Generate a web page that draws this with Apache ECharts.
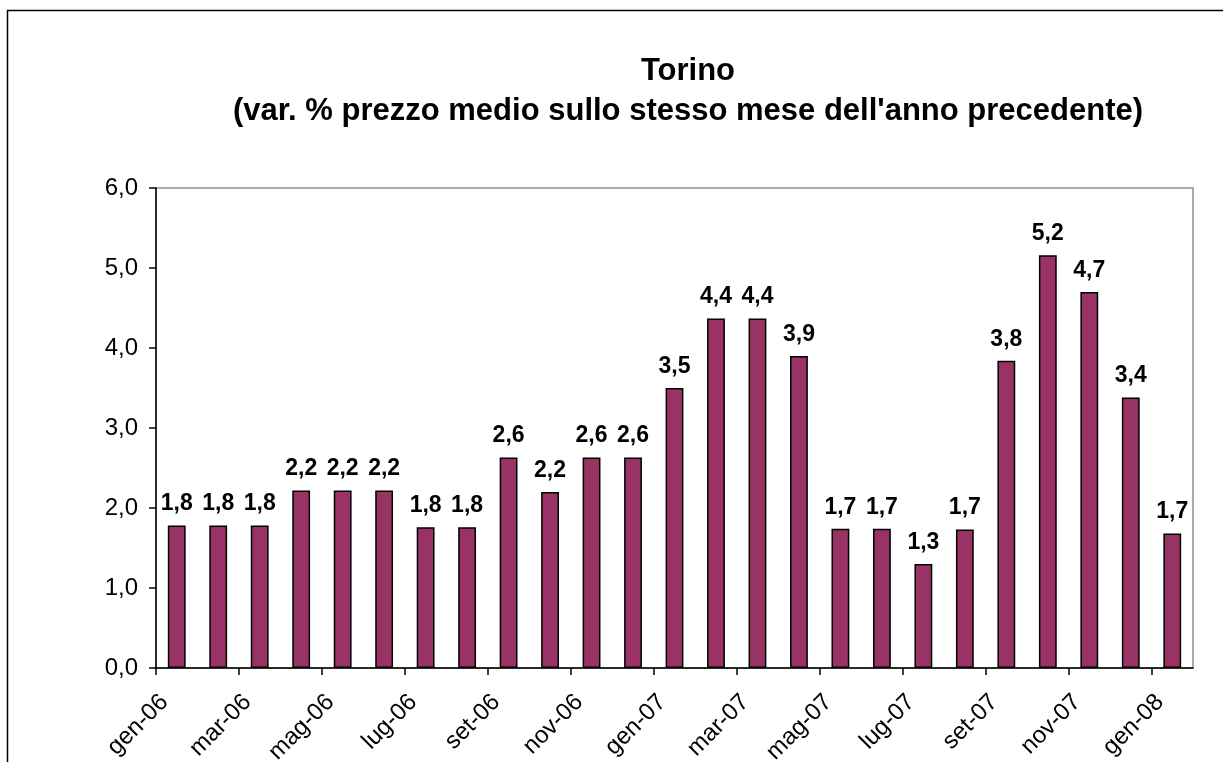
<!DOCTYPE html>
<html>
<head>
<meta charset="utf-8">
<script src="https://cdn.jsdelivr.net/npm/echarts@6/dist/echarts.min.js"></script>
<style>
  html, body { margin: 0; padding: 0; background: #fff; }
  #chart { width: 1223px; height: 762px; }
</style>
</head>
<body>
<div id="chart"></div>
<script>
// months shown as bars
const months = [
  "gen-06", "feb-06", "mar-06", "apr-06", "mag-06", "giu-06", "lug-06", "ago-06",
  "set-06", "ott-06", "nov-06", "dic-06", "gen-07", "feb-07", "mar-07", "apr-07",
  "mag-07", "giu-07", "lug-07", "ago-07", "set-07", "ott-07", "nov-07", "dic-07", "gen-08"
];
// tick labels sit on the left edge of each month band (one extra slot closes the axis)
const tickLabels = months.concat([""]);
// var. % prezzo medio
const values = [
  1.78, 1.78, 1.78, 2.22, 2.22, 2.22, 1.76, 1.76, 2.63, 2.2, 2.63, 2.63, 3.5,
  4.37, 4.37, 3.9, 1.74, 1.74, 1.3, 1.73, 3.84, 5.16, 4.7, 3.38, 1.68
];

const fmt = (v) => v.toFixed(1).replace(".", ",");
const font = "Liberation Sans, Arial, sans-serif";

const chart = echarts.init(document.getElementById("chart"));

const option = {
  backgroundColor: "#fff",
  animation: false,
  title: {
    text: "Torino\n(var. % prezzo medio sullo stesso mese dell'anno precedente)",
    left: 683,
    top: 46,
    textAlign: "center",
    textStyle: {
      fontFamily: font,
      fontSize: 31,
      fontWeight: "bold",
      color: "#000",
      lineHeight: 40,
    },
  },
  grid: {
    left: 156,
    right: 30,
    top: 188,
    bottom: 94,
    outerBoundsMode: "none",
    show: true,
    borderColor: "#909090",
    borderWidth: 1.5,
  },
  xAxis: [
    {
      type: "category",
      data: months,
      boundaryGap: true,
      axisLine: { lineStyle: { color: "#000", width: 1.5 } },
      axisTick: { show: false },
      axisLabel: { show: false },
    },
    {
      type: "category",
      data: tickLabels,
      boundaryGap: false,
      position: "bottom",
      axisLine: { show: false },
      axisTick: {
        show: true,
        interval: 1,
        length: 7,
        lineStyle: { color: "#000", width: 1.5 },
      },
      axisLabel: {
        interval: 1,
        rotate: 45,
        margin: 22,
        verticalAlign: "top",
        fontFamily: font,
        fontSize: 24,
        color: "#000",
      },
    },
  ],
  yAxis: {
    type: "value",
    min: 0,
    max: 6,
    interval: 1,
    axisLine: { show: true, lineStyle: { color: "#000", width: 1.5 } },
    axisTick: { show: true, length: 7, lineStyle: { color: "#000", width: 1.5 } },
    splitLine: { show: false },
    axisLabel: {
      formatter: fmt,
      margin: 18,
      fontFamily: font,
      fontSize: 24,
      color: "#000",
    },
  },
  series: [
    {
      type: "bar",
      data: values,
      xAxisIndex: 0,
      barCategoryGap: "57%",
      itemStyle: {
        color: "#993366",
        borderColor: "#000",
        borderWidth: 1.5,
      },
      label: {
        show: true,
        position: "top",
        distance: 10,
        formatter: (p) => fmt(p.value),
        fontFamily: font,
        fontSize: 23,
        fontWeight: "bold",
        color: "#000",
      },
    },
  ],
  graphic: [
    {
      type: "polyline",
      shape: { points: [[7.5, 800], [7.5, 10.5], [1240, 10.5]] },
      style: { stroke: "#000", lineWidth: 1.5, fill: null },
      silent: true,
    },
  ],
};

chart.setOption(option);
</script>
</body>
</html>
